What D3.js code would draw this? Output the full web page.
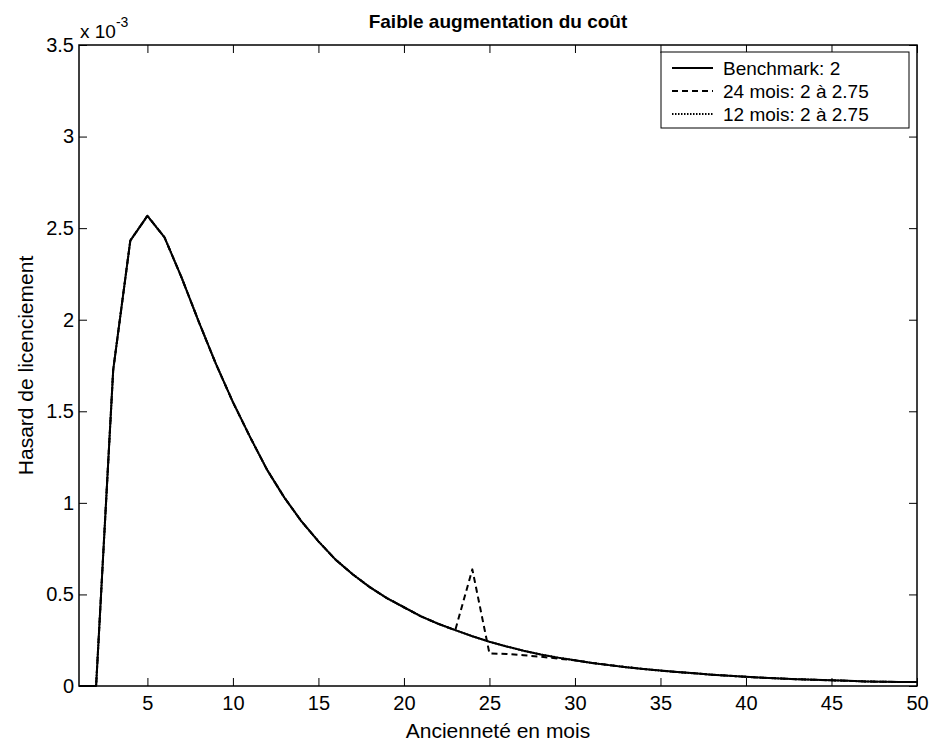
<!DOCTYPE html>
<html lang="fr">
<head>
<meta charset="utf-8">
<script src="https://cdn.jsdelivr.net/npm/d3@7"></script>
<style>
  body { margin: 0; background: #fff; }
  svg { font-family: "Liberation Sans", Arial, sans-serif; }
</style>
</head>
<body>
<svg width="935" height="745"></svg>
<script>
// months 1..50
var months = d3.range(1, 51);

// hazard values, in units of 1e-3
var benchmark = [0, 0, 1.726, 2.432, 2.567, 2.45, 2.23, 1.99, 1.76, 1.55,
  1.36, 1.18, 1.03, 0.90, 0.79, 0.69, 0.61, 0.54, 0.48, 0.43,
  0.38, 0.34, 0.305, 0.272, 0.242, 0.216, 0.192, 0.172, 0.155, 0.140,
  0.126, 0.114, 0.103, 0.093, 0.084, 0.076, 0.069, 0.062, 0.056, 0.050,
  0.045, 0.041, 0.037, 0.034, 0.031, 0.028, 0.025, 0.023, 0.022, 0.022];

var mois24 = [0, 0, 1.726, 2.432, 2.567, 2.45, 2.23, 1.99, 1.76, 1.55,
  1.36, 1.18, 1.03, 0.90, 0.79, 0.69, 0.61, 0.54, 0.48, 0.43,
  0.38, 0.34, 0.305, 0.637, 0.178, 0.175, 0.168, 0.160, 0.150, 0.140,
  0.126, 0.114, 0.103, 0.093, 0.084, 0.076, 0.069, 0.062, 0.056, 0.050,
  0.045, 0.041, 0.037, 0.034, 0.031, 0.028, 0.025, 0.023, 0.022, 0.022];

var mois12 = benchmark.slice();

var seriesNames = ["Benchmark: 2", "24 mois: 2 à 2.75", "12 mois: 2 à 2.75"];
var xTicks = [5, 10, 15, 20, 25, 30, 35, 40, 45, 50];
var yTicks = [0, 0.5, 1, 1.5, 2, 2.5, 3, 3.5];

var svg = d3.select("svg");
var pLeft = 79, pRight = 917, pTop = 45, pBottom = 686;

var x = d3.scaleLinear().domain([1, 50]).range([pLeft, pRight]);
var y = d3.scaleLinear().domain([0, 3.5]).range([pBottom, pTop]);

var series = [
  { name: seriesNames[0], values: benchmark, dash: null },
  { name: seriesNames[1], values: mois24, dash: "6,4" },
  { name: seriesNames[2], values: mois12, dash: "1.5,1.5" }
];

var line = d3.line()
  .x(function (d) { return x(d[0]); })
  .y(function (d) { return y(d[1]); });

// curves
series.forEach(function (s) {
  svg.append("path")
    .datum(months.map(function (m, i) { return [m, s.values[i]]; }))
    .attr("fill", "none")
    .attr("stroke", "#000")
    .attr("stroke-width", 2)
    .attr("stroke-linejoin", "round")
    .attr("stroke-dasharray", s.dash)
    .attr("d", line);
});

// axes, ticks pointing inward like matlab
var tk = 8;
svg.append("g")
  .attr("transform", "translate(0," + pBottom + ")")
  .call(d3.axisBottom(x).tickValues(xTicks).tickSize(-tk).tickPadding(10).tickSizeOuter(0));
svg.append("g")
  .attr("transform", "translate(0," + pTop + ")")
  .call(d3.axisTop(x).tickValues(xTicks).tickSize(-tk).tickFormat("").tickSizeOuter(0));
svg.append("g")
  .attr("transform", "translate(" + pLeft + ",0)")
  .call(d3.axisLeft(y).tickValues(yTicks).tickSize(-tk).tickPadding(5)
    .tickFormat(d3.format("~g")).tickSizeOuter(0));
svg.append("g")
  .attr("transform", "translate(" + pRight + ",0)")
  .call(d3.axisRight(y).tickValues(yTicks).tickSize(-tk).tickFormat("").tickSizeOuter(0));

svg.selectAll(".tick line").attr("stroke", "#000").attr("stroke-width", 1);
svg.selectAll(".domain").remove();
svg.selectAll(".tick text").attr("fill", "#000").attr("font-size", 20)
  .attr("font-family", "Liberation Sans, Arial, sans-serif");

svg.append("rect")
  .attr("x", pLeft).attr("y", pTop)
  .attr("width", pRight - pLeft).attr("height", pBottom - pTop)
  .attr("fill", "none").attr("stroke", "#000").attr("stroke-width", 1.5);

// exponent
var ex = svg.append("text").attr("x", pLeft + 1).attr("y", 38).attr("font-size", 19);
ex.append("tspan").text("x 10");
ex.append("tspan").attr("font-size", 14).attr("dy", -11).text("-3");

// title and labels
svg.append("text")
  .attr("x", (pLeft + pRight) / 2).attr("y", 28)
  .attr("text-anchor", "middle").attr("font-size", 19).attr("font-weight", "bold")
  .text("Faible augmentation du coût");
svg.append("text")
  .attr("x", (pLeft + pRight) / 2).attr("y", 738)
  .attr("text-anchor", "middle").attr("font-size", 21)
  .text("Ancienneté en mois");
svg.append("text")
  .attr("transform", "translate(33," + (pTop + pBottom) / 2 + ") rotate(-90)")
  .attr("text-anchor", "middle").attr("font-size", 21)
  .text("Hasard de licenciement");

// legend
var lg = svg.append("g").attr("transform", "translate(661,52)");
lg.append("rect").attr("width", 248).attr("height", 76)
  .attr("fill", "#fff").attr("stroke", "#000").attr("stroke-width", 1);
series.forEach(function (s, i) {
  var cy = 16 + i * 23;
  lg.append("line")
    .attr("x1", 11).attr("x2", 52).attr("y1", cy).attr("y2", cy)
    .attr("stroke", "#000").attr("stroke-width", 2)
    .attr("stroke-dasharray", s.dash);
  lg.append("text")
    .attr("x", 62).attr("y", cy + 7).attr("font-size", 19)
    .text(s.name);
});
</script>
</body>
</html>
